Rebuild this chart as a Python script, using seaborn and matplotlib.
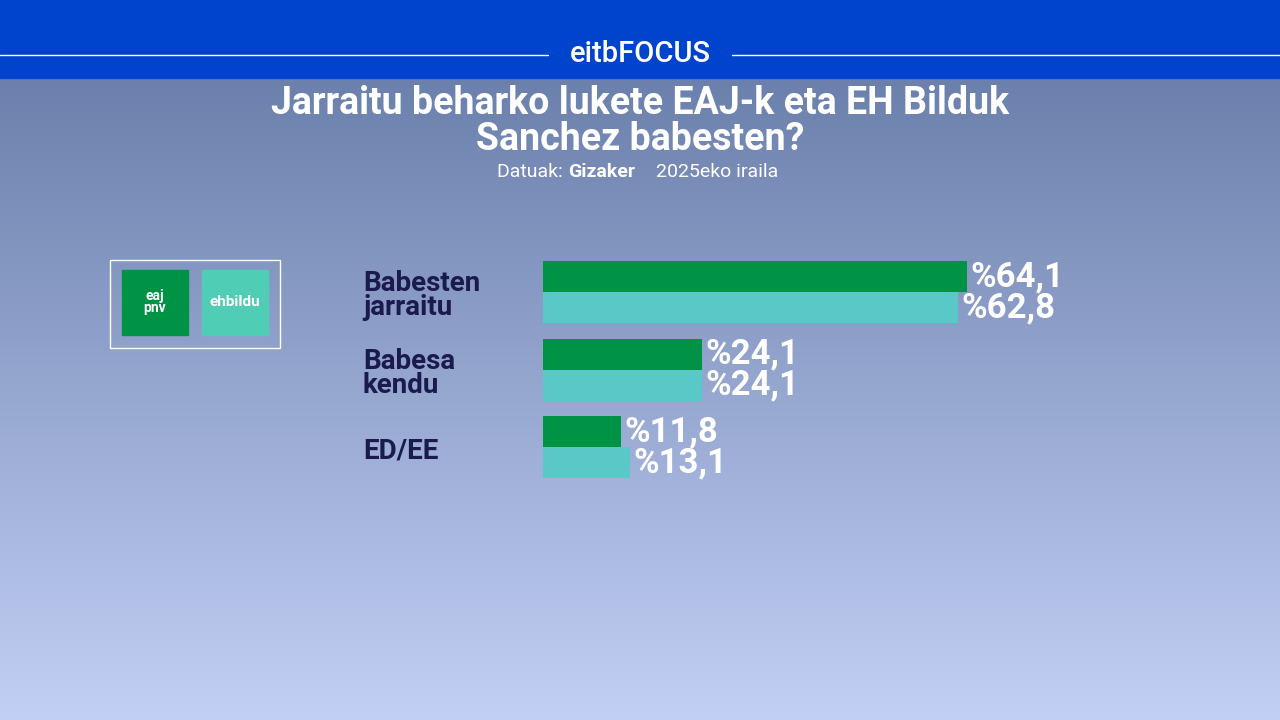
import numpy as np
import pandas as pd
import matplotlib
matplotlib.use("Agg")
import matplotlib.pyplot as plt
import seaborn as sns
from matplotlib.patches import Rectangle

categories = ["Babesten\njarraitu", "Babesa\nkendu", "ED/EE"]
parties = ["EAJ-PNV", "EH Bildu"]
eaj_values = [64.1, 24.1, 11.8]
bildu_values = [62.8, 24.1, 13.1]
colors = ["#009245", "#5BC8C8"]

sns.set_theme(style="white")
plt.rcParams['font.family'] = ['Roboto', 'DejaVu Sans']

W, H = 1280, 720
fig = plt.figure(figsize=(12.8, 7.2), dpi=100)

# background
bg = fig.add_axes([0, 0, 1, 1])
bg.set_xlim(0, W); bg.set_ylim(H, 0); bg.axis("off")
top = np.array([0x6B, 0x80, 0xAC]) / 255
bot = np.array([0xC3, 0xD0, 0xF5]) / 255
t = np.linspace(0, 1, 256)[:, None]
grad = (top * (1 - t) + bot * t)[:, None, :]
bg.imshow(grad, extent=[0, W, H, 78], aspect="auto", zorder=0)
bg.add_patch(Rectangle((0, 0), W, 78, color="#0043CC", zorder=1))
bg.plot([0, 548], [55, 55], color="white", lw=1, zorder=2)
bg.plot([732, W], [55, 55], color="white", lw=1, zorder=2)
bg.text(640, 54, "eitbFOCUS", color="white", fontsize=21, fontweight="medium", ha="center", va="center", zorder=3)
bg.text(640, 104, "Jarraitu beharko lukete EAJ-k eta EH Bilduk", color="white",
        fontsize=27, fontweight="bold", ha="center", va="center")
bg.text(640, 139, "Sanchez babesten?", color="white",
        fontsize=27, fontweight="bold", ha="center", va="center")
bg.text(568, 172, "Datuak: ", color="white", fontsize=14, ha="right", va="center")
bg.text(568, 172, "Gizaker", color="white", fontsize=14, fontweight="bold", ha="left", va="center")
bg.text(656, 172, "2025eko iraila", color="white", fontsize=14, ha="left", va="center")
# logos
bg.add_patch(Rectangle((110, 260), 170, 88, fill=False, ec="white", lw=1))
bg.add_patch(Rectangle((122, 270), 66, 65, color="#009245"))
bg.add_patch(Rectangle((202, 270), 66, 65, color="#4FCDB5"))
bg.text(155, 302, "eaj\npnv", color="white", fontsize=10, fontweight="bold", ha="center", va="center", linespacing=0.8)
bg.text(235, 302, "ehbildu", color="white", fontsize=11, fontweight="bold", ha="center", va="center")

df = pd.DataFrame({
    "cat": categories * 2,
    "party": [parties[0]] * 3 + [parties[1]] * 3,
    "val": eaj_values + bildu_values,
})

ax = fig.add_axes([543 / W, 1 - 493.5 / H, 700 / W, 248 / H])
sns.barplot(data=df, y="cat", x="val", hue="party", palette=colors, orient="h",
            ax=ax, width=0.8, legend=False, saturation=1, linewidth=0)
ax.set_xlim(0, 700 / 6.615)
ax.set_ylim(2.6, -0.6)
ax.axis("off")
ax.patch.set_alpha(0)

for i, (a, b) in enumerate(zip(eaj_values, bildu_values)):
    for v, off in ((a, -0.2), (b, 0.2)):
        ax.text(v + 0.5, i + off, "%" + f"{v:.1f}".replace(".", ","), color="white",
                fontsize=25, fontweight="bold", va="center", ha="left")
    ax.text(-180 / 6.615, i + 0.05, categories[i], color="#1A1A4E", fontsize=20, fontweight="bold",
            va="center", ha="left", linespacing=0.85)

fig.savefig("out.png", dpi=100)
